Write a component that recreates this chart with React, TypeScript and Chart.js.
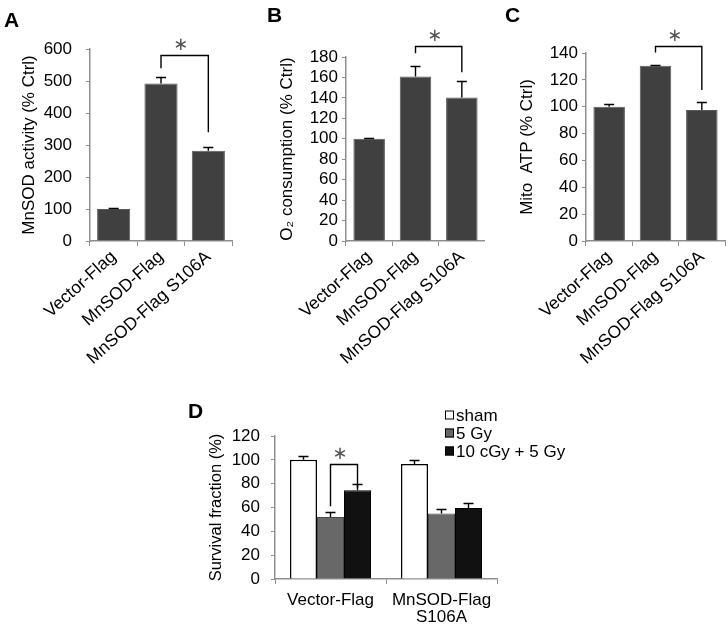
import React, { useEffect, useRef } from "react";
import { Chart, registerables } from "chart.js";

Chart.register(...registerables);

const FONT = "'Liberation Sans', Arial, Helvetica, sans-serif";
Chart.defaults.font.family = FONT;

// ---------- data ----------
const categoriesABC = ["Vector-Flag", "MnSOD-Flag", "MnSOD-Flag S106A"];

const mnsodActivity = [100, 492, 282];
const mnsodActivityErr = [2, 20, 12];

const o2Consumption = [100, 161, 140.5];
const o2ConsumptionErr = [0.5, 10, 16.5];

const mitoAtp = [100, 130.5, 97.5];
const mitoAtpErr = [2.3, 0.5, 6];

const survivalGroups = ["Vector-Flag", ["MnSOD-Flag", "S106A"]];
const survivalSeries = ["sham", "5 Gy", "10 cGy + 5 Gy"];
const survivalSham = [100, 96.5];
const survivalShamErr = [3, 3];
const survivalGy5 = [52, 55];
const survivalGy5Err = [4, 3.6];
const survivalCgy = [74.5, 59.5];
const survivalCgyErr = [5.5, 4];

const ticksA = { max: 600, step: 100 };
const ticksB = { max: 180, step: 20 };
const ticksC = { max: 140, step: 20 };
const ticksD = { max: 120, step: 20 };

// significance brackets: from/to = [datasetIndex, categoryIndex]; heights in data units
const bracketA = { from: [0, 1], to: [0, 2], top: 581, leftEnd: 540, rightEnd: 340 };
const bracketB = { from: [0, 1], to: [0, 2], top: 190.8, leftEnd: 183.6, rightEnd: 165 };
const bracketC = { from: [0, 1], to: [0, 2], top: 144.9, leftEnd: 140.4, rightEnd: 112.5 };
const bracketD = { from: [1, 0], to: [2, 0], top: 96.3, leftEnd: 61, rightEnd: 76.2 };

// ---------- plugin ----------
function makeAnnotPlugin(spec: any) {
  return {
    id: "annot",
    afterDatasetsDraw(chart: any) {
      const { ctx } = chart;
      const y = chart.scales.y;
      ctx.save();
      ctx.strokeStyle = "#000";
      ctx.lineWidth = 1.4;
      // error bars (upper whisker)
      chart.data.datasets.forEach((ds: any, di: number) => {
        const meta = chart.getDatasetMeta(di);
        meta.data.forEach((bar: any, i: number) => {
          const v = ds.data[i];
          const e = ds.errorBars[i];
          const yTop = Math.round(y.getPixelForValue(v + e)) + 0.5;
          ctx.beginPath();
          ctx.moveTo(bar.x, bar.y);
          ctx.lineTo(bar.x, yTop);
          ctx.moveTo(bar.x - 5, yTop);
          ctx.lineTo(bar.x + 5, yTop);
          ctx.stroke();
        });
      });
      // brackets
      (spec.brackets || []).forEach((b: any) => {
        const b1 = chart.getDatasetMeta(b.from[0]).data[b.from[1]];
        const b2 = chart.getDatasetMeta(b.to[0]).data[b.to[1]];
        const yt = Math.round(y.getPixelForValue(b.top)) + 0.5;
        const yl = y.getPixelForValue(b.leftEnd);
        const yr = y.getPixelForValue(b.rightEnd);
        ctx.beginPath();
        ctx.moveTo(b1.x, yl);
        ctx.lineTo(b1.x, yt);
        ctx.lineTo(b2.x, yt);
        ctx.lineTo(b2.x, yr);
        ctx.stroke();
        ctx.fillStyle = "#555";
        ctx.font = "18px 'DejaVu Sans'";
        ctx.textAlign = "center";
        ctx.textBaseline = "middle";
        ctx.fillText("\u2217", (b1.x + b2.x) / 2 - 4, yt - 10);
      });
      ctx.restore();
    },
    afterDraw(chart: any) {
      const { ctx } = chart;
      ctx.save();
      if (spec.letter) {
        ctx.fillStyle = "#000";
        ctx.font = `bold 21px ${FONT}`;
        ctx.textAlign = "left";
        ctx.textBaseline = "alphabetic";
        ctx.fillText(spec.letter.text, spec.letter.x, spec.letter.y);
      }
      if (spec.legend) {
        const L = spec.legend;
        chart.data.datasets.forEach((ds: any, i: number) => {
          const cy = L.y + i * L.rowH;
          ctx.fillStyle = ds.backgroundColor;
          ctx.fillRect(L.x, cy - L.size / 2, L.size, L.size);
          ctx.strokeStyle = "#000";
          ctx.lineWidth = 1;
          ctx.strokeRect(L.x + 0.5, cy - L.size / 2 + 0.5, L.size - 1, L.size - 1);
          ctx.fillStyle = "#000";
          ctx.font = `17px ${FONT}`;
          ctx.textAlign = "left";
          ctx.textBaseline = "middle";
          ctx.fillText(ds.label, L.x + L.size + 2, cy + 1);
        });
      }
      ctx.restore();
    },
  };
}

// ---------- panel ----------
const AXIS = "#8f8f8f";

function Panel({ spec }: { spec: any }) {
  const ref = useRef<HTMLCanvasElement | null>(null);
  useEffect(() => {
    if (!ref.current) return;
    const chart = new Chart(ref.current, {
      type: "bar",
      data: {
        labels: spec.labels,
        datasets: spec.datasets.map((d: any) => ({
          label: d.label,
          data: d.data,
          errorBars: d.errors,
          backgroundColor: d.color,
          borderColor: d.border,
          borderWidth: d.borderWidth,
          barPercentage: spec.barPct,
          categoryPercentage: spec.catPct,
        })),
      },
      options: {
        responsive: false,
        animation: false,
        events: [],
        layout: { padding: spec.padding },
        plugins: { legend: { display: false }, tooltip: { enabled: false } },
        scales: {
          x: {
            grid: {
              display: true,
              drawOnChartArea: false,
              drawTicks: true,
              tickLength: 5,
              color: AXIS,
              offset: true,
            },
            border: { display: true, color: AXIS, width: 1.5 },
            ticks: {
              autoSkip: false,
              maxRotation: spec.rot,
              minRotation: spec.rot,
              padding: spec.xTickPad,
              color: "#000",
              font: { size: spec.xFont, lineHeight: 1.0 },
            },
            afterFit: (s: any) => {
              s.height = spec.xHeight;
            },
          },
          y: {
            min: 0,
            max: spec.yMax,
            grid: { drawOnChartArea: false, drawTicks: true, tickLength: 4, color: AXIS },
            border: { display: true, color: AXIS, width: 1.5 },
            ticks: {
              stepSize: spec.yStep,
              autoSkip: false,
              padding: spec.yTickPad,
              color: "#000",
              font: { size: 17 },
            },
            title: {
              display: true,
              text: spec.yTitle,
              color: "#000",
              font: { size: spec.titleSize || 17 },
              padding: { top: spec.titlePad, bottom: 0 },
            },
            afterFit: (s: any) => {
              s.width = spec.yWidth;
            },
          },
        },
      },
      plugins: [makeAnnotPlugin(spec)],
    } as any);
    return () => chart.destroy();
  }, [spec]);
  return (
    <canvas
      ref={ref}
      width={spec.width}
      height={spec.height}
      style={{ position: "absolute", left: spec.left, top: spec.top, width: spec.width, height: spec.height }}
    />
  );
}

const DARK = "#404040";
const DARK_BORDER = "#5a5a5a";

const specA = {
  left: 0, top: 0, width: 240, height: 380,
  padding: { left: 0, right: 8, top: 49, bottom: 0 },
  yWidth: 90, xHeight: 139, titlePad: 19, yTickPad: 14, xTickPad: 2, rot: 42, xFont: 17.5,
  labels: categoriesABC,
  datasets: [{ label: "MnSOD activity", data: mnsodActivity, errors: mnsodActivityErr, color: DARK, border: DARK_BORDER, borderWidth: 1 }],
  yMax: ticksA.max, yStep: ticksA.step, yTitle: "MnSOD activity (% Ctrl)",
  barPct: 0.7, catPct: 1,
  brackets: [bracketA],
  letter: { text: "A", x: 4, y: 27 },
};

const specB = {
  left: 240, top: 0, width: 245, height: 380,
  padding: { left: 0, right: 0, top: 57, bottom: 0 },
  yWidth: 106, xHeight: 139, titlePad: 37, yTickPad: 4, xTickPad: 2, rot: 42, xFont: 17.5,
  labels: categoriesABC,
  datasets: [{ label: "O2 consumption", data: o2Consumption, errors: o2ConsumptionErr, color: DARK, border: DARK_BORDER, borderWidth: 1 }],
  yMax: ticksB.max, yStep: ticksB.step, yTitle: "O\u2082 consumption (% Ctrl)",
  barPct: 0.68, catPct: 1,
  brackets: [bracketB],
  letter: { text: "B", x: 27, y: 22 },
};

const specC = {
  left: 485, top: 0, width: 243, height: 380,
  padding: { left: 0, right: 3, top: 53, bottom: 0 },
  yWidth: 101, xHeight: 139, titlePad: 32, yTickPad: 4, xTickPad: 2, rot: 42, xFont: 17.5,
  labels: categoriesABC,
  datasets: [{ label: "Mito ATP", data: mitoAtp, errors: mitoAtpErr, color: DARK, border: DARK_BORDER, borderWidth: 1 }],
  yMax: ticksC.max, yStep: ticksC.step, yTitle: "Mito  ATP (% Ctrl)",
  barPct: 0.68, catPct: 1,
  brackets: [bracketC],
  letter: { text: "C", x: 20, y: 22 },
};

const specD = {
  left: 170, top: 380, width: 400, height: 247,
  padding: { left: 0, right: 73, top: 56, bottom: 0 },
  yWidth: 105, xHeight: 48, titlePad: 37, titleSize: 16.5, yTickPad: 11, xTickPad: 8, rot: 0, xFont: 17,
  labels: survivalGroups,
  datasets: [
    { label: survivalSeries[0], data: survivalSham, errors: survivalShamErr, color: "#ffffff", border: "#000000", borderWidth: 1.5 },
    { label: survivalSeries[1], data: survivalGy5, errors: survivalGy5Err, color: "#686868", border: "#4a4a4a", borderWidth: 1 },
    { label: survivalSeries[2], data: survivalCgy, errors: survivalCgyErr, color: "#111111", border: "#000000", borderWidth: 1 },
  ],
  yMax: ticksD.max, yStep: ticksD.step, yTitle: "Survival fraction (%)",
  barPct: 1, catPct: 0.73,
  brackets: [bracketD],
  letter: { text: "D", x: 18, y: 38 },
  legend: { x: 275, y: 35, rowH: 18, size: 9 },
};

export default function App() {
  return (
    <div style={{ position: "absolute", left: 0, top: 0, width: 728, height: 627, background: "#fff", overflow: "hidden" }}>
      <Panel spec={specA} />
      <Panel spec={specB} />
      <Panel spec={specC} />
      <Panel spec={specD} />
    </div>
  );
}
